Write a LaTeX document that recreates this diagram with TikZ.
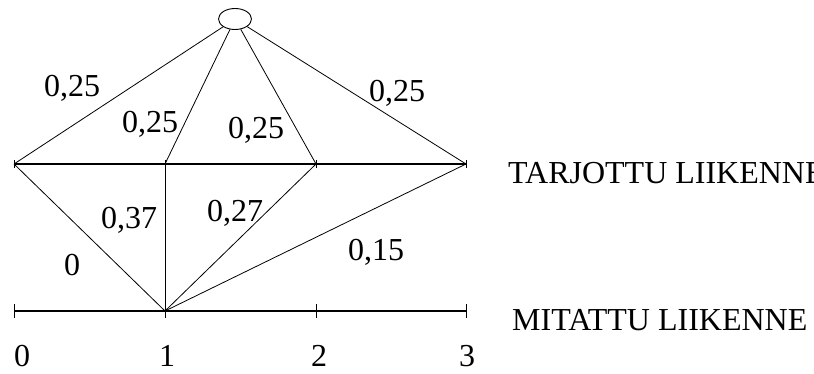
\documentclass[tikz,border=0pt]{standalone}
\usepackage{fontspec}
\setmainfont{Liberation Serif}
\usetikzlibrary{shapes.geometric}

\begin{document}
\begin{tikzpicture}[
        x=1pt, y=-1pt,
        lbl/.style={anchor=base, inner sep=0pt, font=\fontsize{32}{38}\selectfont},
        namelbl/.style={lbl, anchor=base west},
        srcnode/.style={ellipse, draw, line width=0.9pt, minimum width=33pt, minimum height=21pt, inner sep=0pt},
        axis/.style={line width=1.4pt},
        link/.style={line width=0.8pt},
        tickmark/.style={line width=0.8pt},
    ]
        \clip (0,0) rectangle (814,374);

        \node[srcnode] (src) at (235,19) {};

        \foreach \i/\x in {0/14,1/165,2/316,3/466} {
            \coordinate (t\i) at (\x,164);
            \coordinate (m\i) at (\x,311);
        }

        % axes
        \draw[axis] (t0) -- (t3);
        \draw[axis] (m0) -- (m3);
        \foreach \i in {0,...,3} {
            \draw[tickmark] (t\i) ++(0,-4) -- ++(0,8);
            \draw[tickmark] (m\i) ++(0,-7) -- ++(0,14);
        }

        % links
        \foreach \i in {0,...,3} {
            \draw[link] (src) -- (t\i);
            \draw[link] (m1) -- (t\i);
        }

        % weights
        \node[lbl] (w0) at (72,97) {0,25};
        \node[lbl] (w1) at (150,133) {0,25};
        \node[lbl] (w2) at (256,139) {0,25};
        \node[lbl] (w3) at (397,102) {0,25};
        \node[lbl] (p0) at (72,276) {0};
        \node[lbl] (p1) at (129,229) {0,37};
        \node[lbl] (p2) at (235,222) {0,27};
        \node[lbl] (p3) at (376,261) {0,15};

        % axis values
        \node[lbl] (n0) at (22,366) {0};
        \node[lbl] (n1) at (167,366) {1};
        \node[lbl] (n2) at (319,366) {2};
        \node[lbl] (n3) at (467,366) {3};

        \node[namelbl] (offered) at (508,184) {TARJOTTU LIIKENNE};
        \node[namelbl] (measured) at (512,330) {MITATTU LIIKENNE};
    \end{tikzpicture}
\end{document}
